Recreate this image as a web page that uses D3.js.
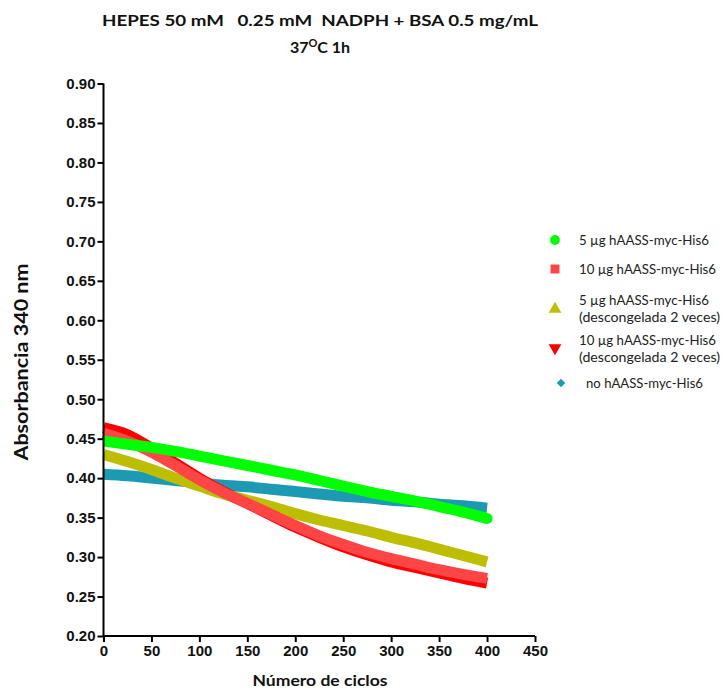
<!DOCTYPE html>
<html>
<head>
<meta charset="utf-8">
<script src="https://cdn.jsdelivr.net/npm/d3@7"></script>
<style>
  html, body { margin: 0; padding: 0; background: #fff; }
  svg text { white-space: pre; }
</style>
</head>
<body>
<svg id="chart" width="724" height="691"></svg>
<script>
// Absorbance at 340 nm read every 25 cycles
const cycles = [0, 25, 50, 75, 100, 125, 150, 175, 200, 225, 250, 275, 300, 325, 350, 375, 400];

const green5 =      [0.447, 0.443, 0.439, 0.434, 0.428, 0.422, 0.416, 0.410, 0.404, 0.397, 0.390, 0.383, 0.377, 0.371, 0.364, 0.357, 0.349];
const salmon10 =    [0.457, 0.447, 0.433, 0.416, 0.398, 0.382, 0.368, 0.354, 0.340, 0.327, 0.316, 0.306, 0.298, 0.291, 0.284, 0.278, 0.273];
const yellow5d =    [0.430, 0.421, 0.411, 0.400, 0.390, 0.380, 0.372, 0.364, 0.355, 0.347, 0.340, 0.333, 0.325, 0.318, 0.310, 0.302, 0.294];
const red10d =      [0.464, 0.455, 0.438, 0.419, 0.400, 0.383, 0.368, 0.353, 0.338, 0.325, 0.313, 0.303, 0.294, 0.287, 0.280, 0.273, 0.267];
const cyanBlank =   [0.405, 0.403, 0.400, 0.397, 0.394, 0.391, 0.389, 0.386, 0.383, 0.380, 0.377, 0.375, 0.372, 0.370, 0.367, 0.365, 0.362];

const xTicks = [0, 50, 100, 150, 200, 250, 300, 350, 400, 450];
const yTicks = [0.20, 0.25, 0.30, 0.35, 0.40, 0.45, 0.50, 0.55, 0.60, 0.65, 0.70, 0.75, 0.80, 0.85, 0.90];

const titleLines = ["HEPES 50 mM   0.25 mM  NADPH + BSA 0.5 mg/mL", "37°C 1h"];
const xLabel = "Número de ciclos";
const yLabel = "Absorbancia 340 nm";

const seriesNames = [
  ["5 µg hAASS-myc-His6"],
  ["10 µg hAASS-myc-His6"],
  ["5 µg hAASS-myc-His6", "(descongelada 2 veces)"],
  ["10 µg hAASS-myc-His6", "(descongelada 2 veces)"],
  ["no hAASS-myc-His6"]
];
const seriesValues = [green5, salmon10, yellow5d, red10d, cyanBlank];
const seriesColors = ["#00ff00", "#ff4545", "#bebe00", "#ff0000", "#1c9ab3"];
const seriesShapes = ["circle", "square", "triangle", "triangleDown", "diamond"];

const series = seriesNames.map((name, i) => ({
  name, color: seriesColors[i], shape: seriesShapes[i],
  points: cycles.map((c, j) => ({ x: c, y: seriesValues[i][j] }))
}));

const svg = d3.select("#chart");
const x = d3.scaleLinear().domain([0, 450]).range([103.5, 535]);
const y = d3.scaleLinear().domain([0.20, 0.90]).range([636, 83.5]);

function symbolPath(shape, area) {
  const t = { circle: d3.symbolCircle, square: d3.symbolSquare, triangle: d3.symbolTriangle,
              triangleDown: d3.symbolTriangle, diamond: d3.symbolSquare }[shape];
  return d3.symbol().type(t).size(area)();
}
function symbolRotate(shape) {
  return shape === "triangleDown" ? 180 : shape === "diamond" ? 45 : 0;
}

// Title
const title = svg.append("g").attr("font-family", "Lato, 'Open Sans', sans-serif")
  .attr("font-weight", "bold").attr("fill", "#111").attr("text-anchor", "middle");
title.append("text").attr("x", 320).attr("y", 26).attr("font-size", 16)
  .attr("textLength", 436).attr("lengthAdjust", "spacingAndGlyphs").text(titleLines[0]);
const t2 = title.append("text").attr("x", 320).attr("y", 53).attr("font-size", 16);
t2.append("tspan").text("37");
t2.append("tspan").attr("dy", -6).attr("font-size", 11).text("O");
t2.append("tspan").attr("dy", 6).text("C 1h");

// Data bands: last legend entry drawn first so the first sits on top
const line = d3.line().x(d => x(d.x)).y(d => y(d.y)).curve(d3.curveMonotoneX);
const plot = svg.append("g");
series.slice().reverse().forEach(s => {
  plot.append("path").datum(s.points)
    .attr("d", line).attr("fill", "none")
    .attr("stroke", s.color).attr("stroke-width", 11)
    .attr("stroke-linejoin", "round")
    .attr("stroke-linecap", "butt");
  if (s.shape === "circle") {
    const last = s.points[s.points.length - 1];
    plot.append("circle").attr("cx", x(last.x)).attr("cy", y(last.y)).attr("r", 5.5)
      .attr("fill", s.color);
  }
});

// Axes
const axisFont = "'Liberation Sans', Arial, sans-serif";
const xAxis = svg.append("g").attr("transform", "translate(0,636)")
  .call(d3.axisBottom(x).tickValues(xTicks).tickFormat(d3.format("d")).tickSize(6).tickPadding(3));
const yAxis = svg.append("g").attr("transform", "translate(103.5,0)")
  .call(d3.axisLeft(y).tickValues(yTicks).tickFormat(d3.format(".2f")).tickSize(6).tickPadding(2));
[xAxis, yAxis].forEach(a => {
  a.select(".domain").attr("stroke", "#000").attr("stroke-width", 2);
  a.selectAll(".tick line").attr("stroke", "#000").attr("stroke-width", 2);
  a.selectAll(".tick text").attr("font-family", axisFont).attr("font-weight", "bold")
    .attr("font-size", 15).attr("fill", "#111");
});
xAxis.select(".domain").attr("d", "M103.5,0H535");
yAxis.select(".domain").attr("d", "M0,636V83.5");

// Axis titles
svg.append("text").attr("x", 320).attr("y", 686).attr("text-anchor", "middle")
  .attr("font-family", "Lato, 'Open Sans', sans-serif").attr("font-weight", "bold")
  .attr("font-size", 15).attr("fill", "#111")
  .attr("textLength", 135).attr("lengthAdjust", "spacingAndGlyphs").text(xLabel);
svg.append("text").attr("transform", "translate(28,362) rotate(-90)").attr("text-anchor", "middle")
  .attr("font-family", "Lato, 'Open Sans', sans-serif").attr("font-weight", "bold")
  .attr("font-size", 18).attr("fill", "#111")
  .attr("textLength", 197).attr("lengthAdjust", "spacingAndGlyphs").text(yLabel);

// Legend
const legendRows = [
  { marker: 240, lines: [245], x: 555, tx: 579, widths: [130] },
  { marker: 269, lines: [274], x: 555, tx: 579, widths: [137] },
  { marker: 309, lines: [305, 322], x: 555, tx: 579, widths: [130, 141] },
  { marker: 348, lines: [345, 362], x: 555, tx: 579, widths: [137, 141] },
  { marker: 383, lines: [388], x: 561, tx: 586, widths: [117] }
];
const legend = svg.append("g").attr("font-family", "Lato, 'Open Sans', sans-serif")
  .attr("font-size", 14).attr("fill", "#222");
series.forEach((s, i) => {
  const r = legendRows[i];
  const area = { circle: 75, square: 80, triangle: 70, triangleDown: 70, diamond: 36 }[s.shape];
  legend.append("path").attr("d", symbolPath(s.shape, area))
    .attr("transform", `translate(${r.x},${r.marker}) rotate(${symbolRotate(s.shape)})`)
    .attr("fill", s.color);
  s.name.forEach((txt, k) => {
    legend.append("text").attr("x", r.tx).attr("y", r.lines[k])
      .attr("textLength", r.widths[k]).attr("lengthAdjust", "spacingAndGlyphs").text(txt);
  });
});
</script>
</body>
</html>
